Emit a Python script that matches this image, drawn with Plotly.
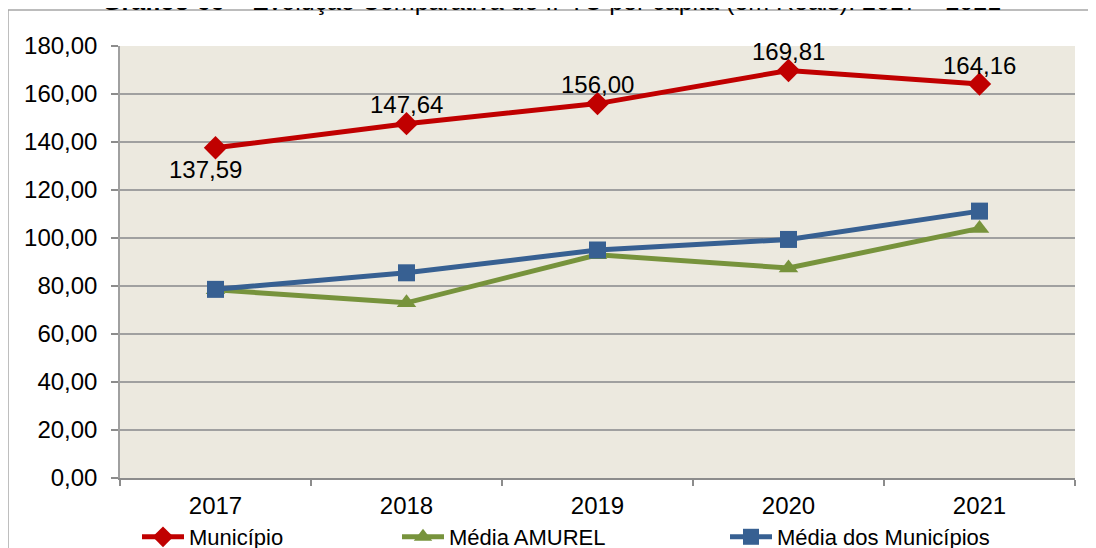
"""Evolução Comparativa do IPTU per capita — Município x AMUREL x Municípios."""

import plotly.graph_objects as go

ANOS = ["2017", "2018", "2019", "2020", "2021"]
MUNICIPIO = [137.59, 147.64, 156.00, 169.81, 164.16]
MEDIA_AMUREL = [78.4, 73.0, 93.0, 87.5, 104.0]
MEDIA_MUNICIPIOS = [78.6, 85.5, 95.0, 99.4, 111.2]
Y_TICKS = [0, 20, 40, 60, 80, 100, 120, 140, 160, 180]

FONT = "Liberation Sans, Arial, sans-serif"


def br(v):
    return f"{v:.2f}".replace(".", ",")


fig = go.Figure()

fig.add_trace(go.Scatter(
    x=ANOS, y=MEDIA_AMUREL, name="Média AMUREL", mode="lines+markers",
    line=dict(color="#77933C", width=5),
    marker=dict(symbol="triangle-up", size=17, color="#77933C"),
    legend="legend2",
))
fig.add_trace(go.Scatter(
    x=ANOS, y=MEDIA_MUNICIPIOS, name="Média dos Municípios", mode="lines+markers",
    line=dict(color="#376092", width=5),
    marker=dict(symbol="square", size=17, color="#376092"),
    legend="legend3",
))
fig.add_trace(go.Scatter(
    x=ANOS, y=MUNICIPIO, name="Município", mode="lines+markers",
    line=dict(color="#C00000", width=5),
    marker=dict(symbol="diamond", size=18, color="#C00000"),
    legend="legend",
))

# rótulos de dados do Município (x = índice da categoria)
for i, v in enumerate(MUNICIPIO):
    fig.add_annotation(
        x=i, y=v, text=br(v), showarrow=False,
        yshift=-22 if i == 0 else 19, xshift=-10 if i == 0 else 0,
        font=dict(family=FONT, size=24, color="#000000"),
    )

# moldura externa do gráfico
fig.add_shape(type="rect", xref="paper", yref="paper",
              x0=-0.1173, x1=1.2, y0=-0.3, y1=1.0833,
              line=dict(color="#A6A6A6", width=1.5), layer="below")

fig.add_annotation(
    xref="paper", yref="paper", x=0.452, y=1.0671, xanchor="center", yanchor="bottom",
    text="<b>Gráfico 66</b> – Evolução Comparativa do IPTU per capita (em Reais): 2017 – 2021",
    showarrow=False, font=dict(family=FONT, size=25, color="#000000"),
)

leg = dict(orientation="h", yanchor="middle", y=0.0204, xanchor="left",
           xref="container", yref="container",
           font=dict(family=FONT, size=22, color="#000000"),
           bgcolor="rgba(0,0,0,0)", itemwidth=42)

fig.update_layout(
    width=1088, height=540,
    margin=dict(l=112, r=21, t=38, b=70, autoexpand=False),
    paper_bgcolor="#FFFFFF",
    plot_bgcolor="#ECE9DF",
    separators=",.",
    font=dict(family=FONT, size=24, color="#000000"),
    showlegend=True,
    legend=dict(leg, x=129 / 1088),
    legend2=dict(leg, x=389 / 1088),
    legend3=dict(leg, x=717 / 1088),
    xaxis=dict(
        type="category", range=[-0.5, 4.5], tickson="boundaries",
        ticks="outside", ticklen=6,
        tickcolor="#8C8C8C", tickwidth=1.5, showgrid=False,
        showline=True, linecolor="#8C8C8C", linewidth=1.5,
        ticklabelstandoff=5, tickfont=dict(family=FONT, size=24),
    ),
    yaxis=dict(
        range=[0, 180], tickvals=Y_TICKS, tickformat=".2f",
        ticks="outside", ticklen=7, tickcolor="#8C8C8C", tickwidth=1.5,
        showgrid=True, gridcolor="#A0A0A0", gridwidth=1.5,
        showline=True, linecolor="#A0A0A0", linewidth=1.5,
        zeroline=False, ticklabelstandoff=9, tickfont=dict(family=FONT, size=24),
    ),
)

fig.write_html("out.html")
